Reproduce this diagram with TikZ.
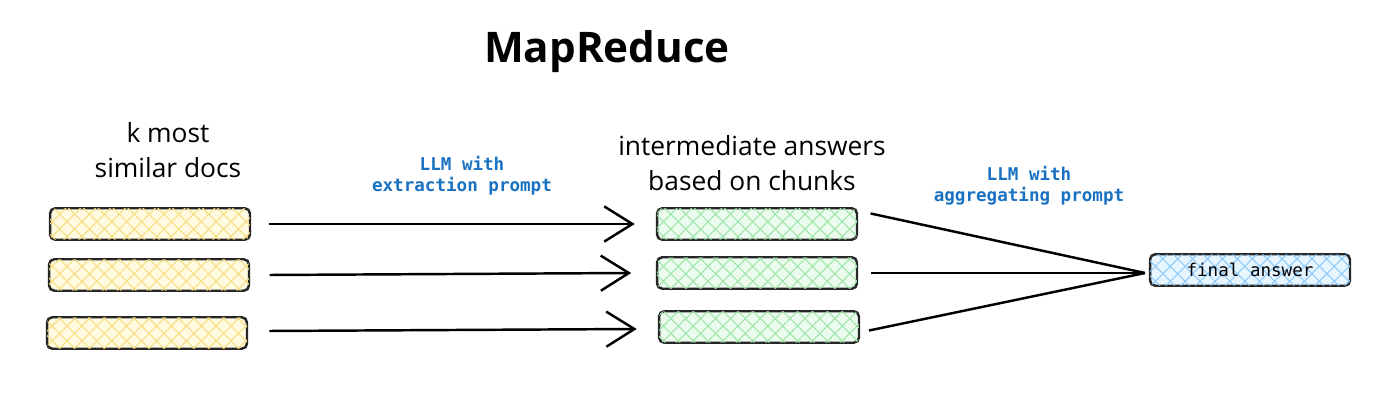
\documentclass[tikz,border=0pt]{standalone}
\usepackage{fontspec}
\setmainfont{Open Sans}
\newfontfamily\monof{DejaVu Sans Mono}
\usetikzlibrary{patterns.meta,arrows.meta}
\definecolor{yfill}{HTML}{FFFAE0}\definecolor{yhatch}{HTML}{F8DE80}
\definecolor{gfill}{HTML}{EBFBEE}\definecolor{ghatch}{HTML}{9EE6A8}
\definecolor{bfill}{HTML}{E7F5FF}\definecolor{bhatch}{HTML}{8CCBFC}
\definecolor{lblue}{HTML}{1971C2}
\begin{document}
\begin{tikzpicture}[x=0.02cm,y=-0.02cm,
  box/.style={draw=black!85,line width=1.4pt,rounded corners=3pt,minimum width=4cm,minimum height=0.63cm,inner sep=0pt},
  hatch/.style={fill=#1fill,
     postaction={pattern={Lines[angle=45,distance=6pt,line width=0.6pt]},pattern color=#1hatch},
     postaction={pattern={Lines[angle=-45,distance=6pt,line width=0.6pt]},pattern color=#1hatch}},
  ybox/.style={box,hatch=y},
  gbox/.style={box,hatch=g},
  bbox/.style={box,hatch=b,font=\monof},
  arr/.style={line width=1.4pt,-{Straight Barb[length=16pt,width=20pt,line width=1.4pt]}},
  ln/.style={line width=1.4pt},
  lbl/.style={align=center,font=\fontsize{15}{20}\selectfont,inner sep=0pt},
  llm/.style={align=center,text=lblue,font=\monof\bfseries,inner sep=0pt}]
\useasboundingbox (0,0) rectangle (1400,408);
\node[font=\fontsize{24}{28}\selectfont\bfseries] (title) at (607,52) {MapReduce};
\node[lbl] (kl) at (168,150) {k most\\similar docs};
\node[lbl] (il) at (752,163) {intermediate answers\\based on chunks};
\node[llm] (e) at (462,176) {LLM with\\extraction prompt};
\node[llm] (a) at (1029,186) {LLM with\\aggregating prompt};
\node[ybox] (y1) at (150,224) {};
\node[ybox] (y2) at (149,275) {};
\node[ybox] (y3) at (147,333) {};
\node[gbox] (g1) at (757,224) {};
\node[gbox] (g2) at (757,273) {};
\node[gbox] (g3) at (759,327) {};
\node[bbox] (f) at (1250,270) {final answer};
\coordinate (m) at (1145,273);
\draw[arr] ([xshift=10pt]y1.east) -- ([xshift=-12pt]g1.west);
\draw[arr] ([xshift=11pt]y2.east) -- ([xshift=-14pt]g2.west);
\draw[arr] ([xshift=12pt]y3.east |- 0,331) -- ([xshift=-12pt]g3.west |- 0,329);
\draw[ln] ([xshift=7pt,yshift=6pt]g1.east) -- (m);
\draw[ln] ([xshift=7pt]g2.east) -- (m);
\draw[ln] ([xshift=5pt,yshift=-2pt]g3.east) -- (m);
\end{tikzpicture}
\end{document}
